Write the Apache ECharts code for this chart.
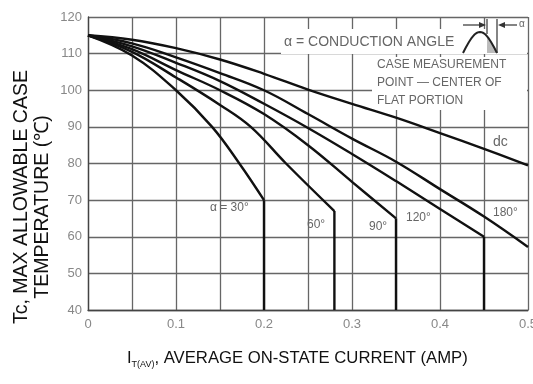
<!DOCTYPE html>
<html>
<head>
<meta charset="utf-8">
<script src="https://cdn.jsdelivr.net/npm/echarts@6/dist/echarts.min.js"></script>
<style>html,body{margin:0;padding:0;background:#fff}#c{width:533px;height:384px}</style>
</head>
<body>
<div id="c"></div>
<script>
// ---- data ----
const xTickLabels = ['0', '0.1', '0.2', '0.3', '0.4', '0.5'];
const yTickLabels = ['40', '50', '60', '70', '80', '90', '100', '110', '120'];
const seriesNames = ['30°', '60°', '90°', '120°', '180°', 'dc'];
const curve30  = [[0,115],[0.05,109.5],[0.1,100],[0.141,90],[0.172,80],[0.2,70]];
const curve60  = [[0,115],[0.05,110.5],[0.1,103.5],[0.15,96],[0.185,90],[0.225,80],[0.28,67]];
const curve90  = [[0,115],[0.05,111.2],[0.1,105.5],[0.15,100],[0.2,93.5],[0.25,85],[0.3,75],[0.35,65]];
const curve120 = [[0,115],[0.05,112],[0.1,107.5],[0.15,102.5],[0.2,96.3],[0.25,89.7],[0.3,82.6],[0.35,75.2],[0.4,67.6],[0.45,60]];
const curve180 = [[0,115],[0.05,112.8],[0.1,109],[0.15,104.7],[0.2,100],[0.25,93.5],[0.3,86.8],[0.35,80.5],[0.4,73],[0.45,65.5],[0.5,57.2]];
const curveDC  = [[0,115],[0.05,113.8],[0.1,111.5],[0.15,108.4],[0.2,104.5],[0.25,100.2],[0.3,96.3],[0.35,92.5],[0.4,88.3],[0.45,84],[0.5,79.5]];
// curves that end in a vertical drop to the bottom of the axis
const dropCurves = [curve30, curve60, curve90, curve120];
const yMin = 40, yMax = 120;

const chart = echarts.init(document.getElementById('c'), null, {renderer: 'canvas'});
const lineStyle = {color: '#111', width: 2.4};
const curves = [curve30, curve60, curve90, curve120, curve180, curveDC];
const series = [];
curves.forEach((d, i) => {
  series.push({type: 'line', name: seriesNames[i], data: d, smooth: 0.4, showSymbol: false,
    lineStyle: lineStyle, z: 3, silent: true});
});
dropCurves.forEach((d) => {
  const last = d[d.length - 1];
  series.push({type: 'line', data: [last, [last[0], yMin]], showSymbol: false,
    lineStyle: lineStyle, z: 3, silent: true});
});

const humpPts = [];
for (let i = 0; i <= 24; i++) {
  humpPts.push([463 + 34 * i / 24, 53 - 21 * Math.sin(Math.PI * i / 24)]);
}
const hatch = [[487, 53]];
humpPts.forEach(p => { if (p[0] >= 487) hatch.push(p); });
hatch.push([497, 53]);

const txt = (x, y, s, size, extra) => Object.assign({
  type: 'text', x: x, y: y, z: 10,
  style: {text: s, fill: '#666', font: size + 'px "Liberation Sans", Arial, sans-serif', verticalAlign: 'middle'}
}, extra || {});

chart.setOption({
  animation: false,
  grid: {left: 88, right: 5, top: 17, bottom: 74, containLabel: false, outerBoundsMode: 'none'},
  xAxis: {
    type: 'value', min: 0, max: 0.5, interval: 0.05,
    axisLine: {show: true, lineStyle: {color: '#444', width: 1.3}},
    axisTick: {show: false},
    splitLine: {show: true, lineStyle: {color: '#666', width: 1.3}},
    axisLabel: {
      color: '#888', fontSize: 13, margin: 8, fontFamily: 'Liberation Sans',
      formatter: v => { const k = Math.round(v * 20); return k % 2 === 0 ? xTickLabels[k / 2] : ''; }
    }
  },
  yAxis: {
    type: 'value', min: yMin, max: yMax, interval: 10,
    axisLine: {show: true, lineStyle: {color: '#444', width: 1.3}},
    axisTick: {show: false},
    splitLine: {show: true, lineStyle: {color: '#666', width: 1.3}},
    axisLabel: {
      color: '#888', fontSize: 13, margin: 6, fontFamily: 'Liberation Sans',
      formatter: v => yTickLabels[Math.round((v - yMin) / 10)]
    }
  },
  series: series,
  graphic: [
    {type: 'rect', z: 1, shape: {x: 281, y: 29, width: 246, height: 25}, style: {fill: '#fff'}},
    {type: 'rect', z: 1, shape: {x: 372, y: 57, width: 155, height: 53}, style: {fill: '#fff'}},
    txt(284, 42, 'α = CONDUCTION ANGLE', 14),
    txt(377, 65, 'CASE MEASUREMENT', 12),
    txt(377, 83, 'POINT — CENTER OF', 12),
    txt(377, 101, 'FLAT PORTION', 12),
    {type: 'polygon', z: 9, shape: {points: hatch}, style: {fill: '#bbb', stroke: null}},
    {type: 'polyline', z: 10, shape: {points: humpPts}, style: {stroke: '#222', lineWidth: 2, fill: null}},
    {type: 'line', z: 10, shape: {x1: 463, y1: 25, x2: 480, y2: 25}, style: {stroke: '#333', lineWidth: 1.2}},
    {type: 'polygon', z: 10, shape: {points: [[479, 22], [486, 25], [479, 28]]}, style: {fill: '#333'}},
    {type: 'line', z: 10, shape: {x1: 487, y1: 19, x2: 487, y2: 34}, style: {stroke: '#333', lineWidth: 1.2}},
    {type: 'line', z: 10, shape: {x1: 497, y1: 19, x2: 497, y2: 53}, style: {stroke: '#333', lineWidth: 1.2}},
    {type: 'polygon', z: 10, shape: {points: [[505, 22], [498, 25], [505, 28]]}, style: {fill: '#333'}},
    {type: 'line', z: 10, shape: {x1: 504, y1: 25, x2: 517, y2: 25}, style: {stroke: '#333', lineWidth: 1.2}},
    txt(519, 24, 'α', 10),
    txt(210, 208, 'α = 30°', 12),
    txt(307, 225, '60°', 12),
    txt(369, 227, '90°', 12),
    txt(406, 218, '120°', 12),
    txt(493, 213, '180°', 12),
    txt(493, 142, 'dc', 14),
    {type: 'text', z: 10, x: 127, y: 358,
      style: {
        text: '{i|I}{s|T(AV)}{t|, AVERAGE ON-STATE CURRENT (AMP)}',
        verticalAlign: 'middle', fill: '#111',
        rich: {
          i: {fontSize: 16.5, fontFamily: 'Liberation Sans', lineHeight: 22, verticalAlign: 'middle', fill: '#111'},
          s: {fontSize: 9, fontFamily: 'Liberation Sans', lineHeight: 22, verticalAlign: 'bottom', fill: '#111'},
          t: {fontSize: 16.7, fontFamily: 'Liberation Sans', lineHeight: 22, verticalAlign: 'middle', fill: '#111'}
        }
      }},
    {type: 'text', z: 10, x: 22, y: 197, rotation: Math.PI / 2,
      style: {text: 'Tc, MAX ALLOWABLE CASE', fill: '#111', align: 'center', verticalAlign: 'middle',
        font: '19.5px "Liberation Sans", Arial, sans-serif'}},
    {type: 'text', z: 10, x: 43, y: 207, rotation: Math.PI / 2,
      style: {text: 'TEMPERATURE (℃)', fill: '#111', align: 'center', verticalAlign: 'middle',
        font: '19.5px "Liberation Sans", Arial, sans-serif'}}
  ]
});
</script>
</body>
</html>
